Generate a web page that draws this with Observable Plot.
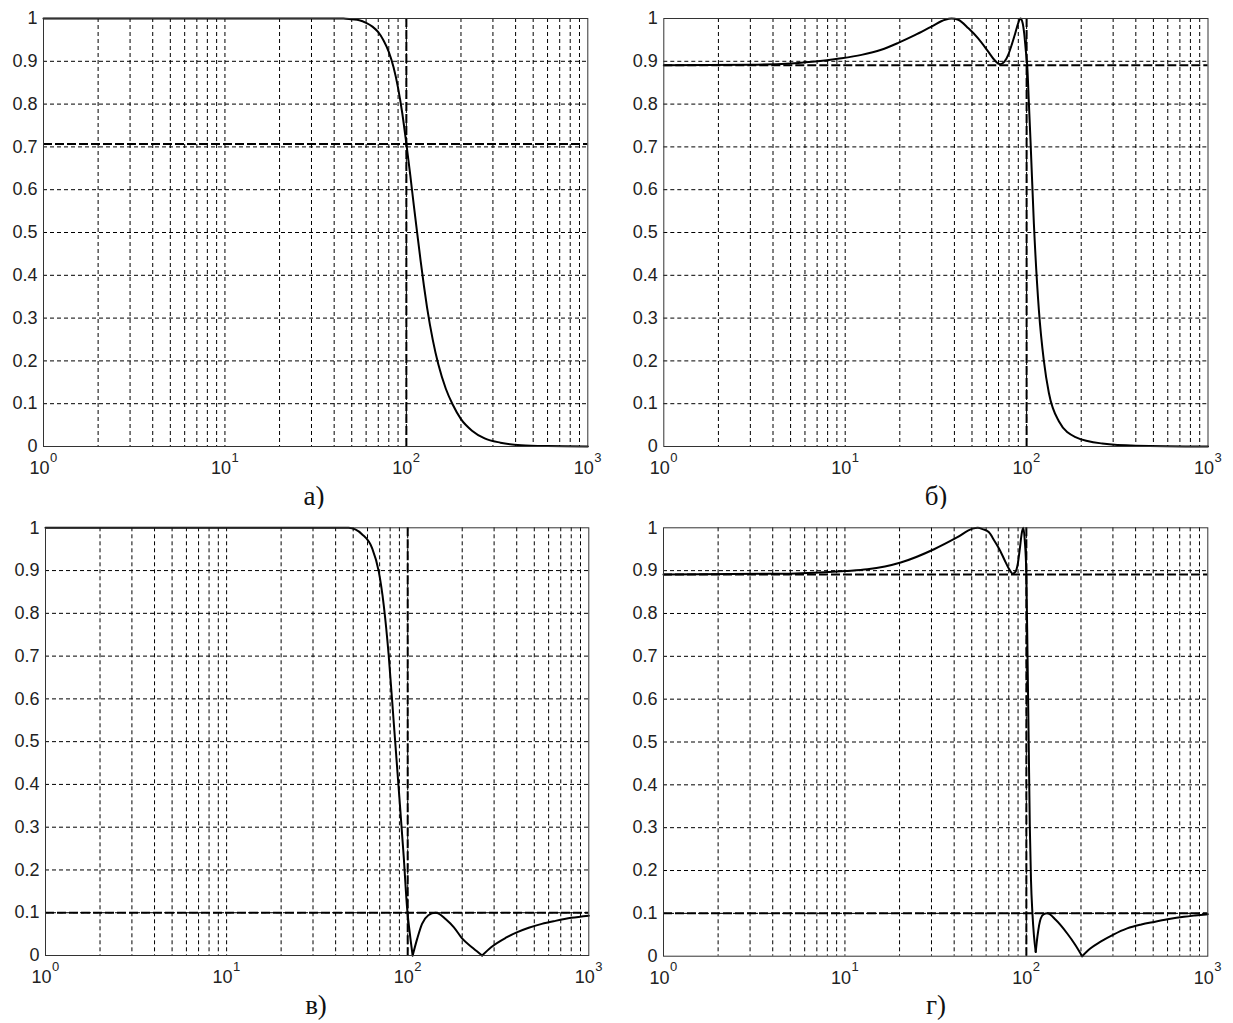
<!DOCTYPE html>
<html><head><meta charset="utf-8">
<script src="https://cdn.jsdelivr.net/npm/d3@7"></script>
<script src="https://cdn.jsdelivr.net/npm/@observablehq/plot@0.6"></script>
<style>
body{margin:0;background:#fff;width:1233px;height:1023px;position:relative;overflow:hidden}
.panel{position:absolute}
.cap{position:absolute;font-family:"Liberation Serif","Times New Roman",serif;font-size:27px;color:#111;transform:translateX(-50%);line-height:1;white-space:nowrap}
</style></head><body>
<script>
// ---- axis ticks / grid ----
const xTickValues = [1, 10, 100, 1000];
const xTickExp = ["0", "1", "2", "3"];
const xGrid = [2,3,4,5,6,7,8,9,10,20,30,40,50,60,70,80,90,100,200,300,400,500,600,700,800,900];
const yTicks = [0,0.1,0.2,0.3,0.4,0.5,0.6,0.7,0.8,0.9,1];
const yTickLabels = ["0","0.1","0.2","0.3","0.4","0.5","0.6","0.7","0.8","0.9","1"];
const yGrid = [0.1,0.2,0.3,0.4,0.5,0.6,0.7,0.8,0.9];
const vLines = [100];

// ---- а) Butterworth ----
const aFreq = [1, 10, 30, 45, 50, 55, 60, 65, 70, 75, 80, 85, 90, 95, 100, 105, 110, 115, 120, 125, 130, 140, 150, 165, 180, 200, 230, 270, 330, 430, 600, 1000];
const aMag  = [1, 1, 1, 1, 0.998, 0.996, 0.99, 0.981, 0.968, 0.948, 0.922, 0.886, 0.838, 0.778, 0.707, 0.635, 0.562, 0.495, 0.432, 0.375, 0.325, 0.248, 0.192, 0.135, 0.098, 0.064, 0.037, 0.019, 0.009, 0.003, 0.001, 0.0001];
const aH = [0.707];

// ---- б) Chebyshev I ----
const bFreq = [1, 3, 5, 7.06, 9.1, 12.3, 15.8, 19.6, 24.2, 29.9, 35.5, 38.6, 42, 47.8, 54.2, 61.6, 66.5, 71.5, 75.5, 79.5, 83, 86.5, 90, 92.5, 95, 97, 99, 100.8, 103, 105.2, 109.7, 116.9, 124.5, 132.7, 150.6, 186, 261, 400, 1000];
const bMag  = [0.891, 0.892, 0.895, 0.90, 0.906, 0.915, 0.927, 0.943, 0.961, 0.981, 0.997, 1.0, 0.997, 0.977, 0.953, 0.922, 0.903, 0.893, 0.899, 0.917, 0.94, 0.965, 0.99, 1.0, 0.99, 0.965, 0.925, 0.89, 0.80, 0.71, 0.52, 0.318, 0.20, 0.125, 0.059, 0.022, 0.007, 0.002, 0.0002];
const bH = [0.891];

// ---- в) Chebyshev II ----
const cFreq = [1, 10, 30, 47.2, 55.9, 63.5, 69.2, 73.7, 78.5, 83.7, 89.2, 95.0, 99.2, 103.4, 106.5, 113, 120, 130, 142, 150, 160, 180, 199.6, 230, 257.5, 290, 346.6, 400, 466, 550, 654, 800, 1000];
const cMag  = [1, 1, 1, 1, 0.985, 0.953, 0.898, 0.82, 0.703, 0.546, 0.39, 0.233, 0.112, 0.042, 0, 0.04, 0.074, 0.094, 0.10, 0.097, 0.087, 0.066, 0.04, 0.017, 0, 0.02, 0.041, 0.054, 0.065, 0.074, 0.081, 0.088, 0.093];
const cH = [0.1];

// ---- г) Elliptic ----
const dFreq = [1, 5, 10, 13.3, 20.3, 31, 41.7, 50.5, 54, 57.4, 62, 66.6, 71, 75.6, 80, 84.1, 87, 89.6, 92, 94.2, 96.2, 98, 100, 101.5, 103, 104.5, 106, 108, 110, 112.6, 115, 120, 125, 130.5, 145, 168, 185, 203, 225, 256.5, 300, 359.5, 430, 505, 600, 738, 850, 1000];
const dMag  = [0.891, 0.893, 0.899, 0.903, 0.919, 0.95, 0.978, 0.998, 1.0, 0.997, 0.99, 0.97, 0.95, 0.926, 0.905, 0.893, 0.897, 0.915, 0.95, 0.986, 1.0, 0.97, 0.89, 0.7, 0.5, 0.3, 0.18, 0.1, 0.05, 0.01, 0.045, 0.088, 0.098, 0.1, 0.085, 0.053, 0.028, 0.0, 0.018, 0.034, 0.05, 0.065, 0.074, 0.08, 0.086, 0.092, 0.095, 0.098];
const dH = [0.891, 0.1];

const captions = ["а)", "б)", "в)", "г)"];

function toRows(freq, mag) {
  // split the line at sharp zeros (V-shaped minima) so the smooth curve keeps the corner
  const rows = [];
  let seg = 0;
  for (let i = 0; i < freq.length; i++) {
    const isV = i > 0 && i < freq.length - 1 && mag[i] <= 0.012 && mag[i] < mag[i-1] && mag[i] < mag[i+1];
    rows.push({f: freq[i], m: mag[i], seg});
    if (isV) { seg++; rows.push({f: freq[i], m: mag[i], seg}); }
  }
  return rows;
}

const panels = [
  {left: 0,   top: 0,   width: 600, mL: 43,   mR: 12.7, mT: 18,   mB: 34,   freq: aFreq, mag: aMag, h: aH, cap: captions[0], capX: 314, capY: 483},
  {left: 620, top: 0,   width: 613, mL: 43.3, mR: 25.5, mT: 18,   mB: 34,   freq: bFreq, mag: bMag, h: bH, cap: captions[1], capX: 936, capY: 483},
  {left: 0,   top: 509, width: 600, mL: 45,   mR: 11.7, mT: 18.3, mB: 34,   freq: cFreq, mag: cMag, h: cH, cap: captions[2], capX: 316, capY: 992},
  {left: 620, top: 509, width: 613, mL: 43,   mR: 25.7, mT: 18.3, mB: 33.3, freq: dFreq, mag: dMag, h: dH, cap: captions[3], capX: 936, capY: 992}
];

const gridStyle = {stroke: "#000", strokeWidth: 1, strokeDasharray: "4,3"};
const refStyle = {stroke: "#000", strokeWidth: 2, strokeDasharray: "9,3"};

for (const p of panels) {
  const chart = Plot.plot({
    width: p.width, height: 480,
    marginLeft: p.mL, marginRight: p.mR, marginTop: p.mT, marginBottom: p.mB,
    x: {type: "log", domain: [1, 1000], axis: null},
    y: {domain: [0, 1], axis: null},
    style: {fontFamily: "'Liberation Sans', Arial, sans-serif", background: "white", overflow: "visible", color: "#222"},
    marks: [
      Plot.ruleX(xGrid, {x: d => d, ...gridStyle}),
      Plot.ruleY(yGrid, {y: d => d, ...gridStyle}),
      Plot.ruleY(p.h, {y: d => d, ...refStyle}),
      Plot.ruleX(vLines, {x: d => d, ...refStyle}),
      Plot.line(toRows(p.freq, p.mag), {x: "f", y: "m", z: "seg", stroke: "#000", strokeWidth: 2, curve: "monotone-x"}),
      Plot.frame({stroke: "#333", strokeWidth: 1}),
      Plot.text(yTicks, {y: d => d, frameAnchor: "left", text: (d, i) => yTickLabels[i], textAnchor: "end", dx: -6, fontSize: 18, fill: "#222"}),
      Plot.text(xTickValues, {x: d => d, frameAnchor: "bottom", text: () => "10", textAnchor: "end", lineAnchor: "top", dx: 6, dy: 15, fontSize: 18, fill: "#222"}),
      Plot.text(xTickValues, {x: d => d, frameAnchor: "bottom", text: (d, i) => xTickExp[i], textAnchor: "start", lineAnchor: "top", dx: 6.5, dy: 6, fontSize: 13, fill: "#222"})
    ]
  });
  const div = document.createElement("div");
  div.className = "panel";
  div.style.left = p.left + "px";
  div.style.top = p.top + "px";
  div.appendChild(chart);
  document.body.appendChild(div);
  const cap = document.createElement("div");
  cap.className = "cap";
  cap.style.left = p.capX + "px";
  cap.style.top = p.capY + "px";
  cap.textContent = p.cap;
  document.body.appendChild(cap);
}
</script>
</body></html>
